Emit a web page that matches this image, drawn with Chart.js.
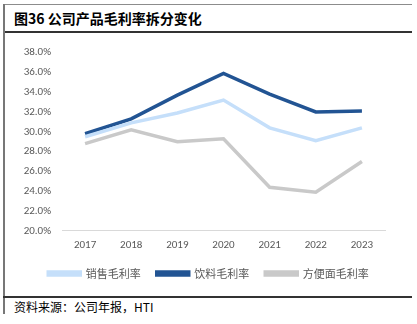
<!DOCTYPE html>
<html>
<head>
<meta charset="utf-8">
<script src="https://cdn.jsdelivr.net/npm/chart.js@4/dist/chart.umd.min.js"></script>
<style>
    body { margin: 0; background: #fff; font-family: "Noto Sans CJK SC", sans-serif; }
    #wrap { position: relative; width: 417px; height: 324px; overflow: hidden; }
    .line { position: absolute; }
    #title { position: absolute; left: 14px; top: 8px; font-size: 14px; font-weight: bold; color: #000; }
    #source { position: absolute; left: 14px; top: 298px; font-size: 12px; color: #000; }
    #chartBox { position: absolute; left: 0; top: 35px; width: 412px; height: 260px; }
</style>
</head>
<body>
<div id="wrap">
    <div class="line" style="left:3px;top:4px;width:409px;height:1px;background:#8c8c8c;"></div>
    <div class="line" style="left:3px;top:31px;width:409px;height:1.5px;background:#333;"></div>
    <div class="line" style="left:3px;top:4px;width:1.5px;height:310px;background:#777;"></div>
    <div class="line" style="left:3px;top:296px;width:409px;height:1.5px;background:#333;"></div>
    <div id="title">图36 公司产品毛利率拆分变化</div>
    <div id="source">资料来源：公司年报，HTI</div>
    <div id="chartBox"><canvas id="myChart"></canvas></div>
</div>
<script>
// Data
const years = ['2017', '2018', '2019', '2020', '2021', '2022', '2023'];
const salesMargin = [29.5, 30.9, 31.9, 33.2, 30.4, 29.1, 30.4];     // 销售毛利率
const drinkMargin = [29.8, 31.3, 33.7, 35.9, 33.8, 32.0, 32.1];     // 饮料毛利率
const noodleMargin = [28.8, 30.2, 29.0, 29.3, 24.4, 23.9, 27.0];    // 方便面毛利率
const yTicks = [20, 22, 24, 26, 28, 30, 32, 34, 36, 38];

const ctx = document.getElementById('myChart').getContext('2d');

const makeSet = (label, data, color) => ({
    label: label,
    data: data,
    borderColor: color,
    backgroundColor: color,
    borderWidth: 3.5,
    pointRadius: 0,
    tension: 0,
    fill: false
});

// the original legend sits a bit right of the canvas centre
const shiftLegend = {
    id: 'shiftLegend',
    afterLayout(chart) {
        chart.legend.left += 16;
        chart.legend.right += 16;
    }
};

new Chart(ctx, {
    type: 'line',
    data: {
        labels: years,
        datasets: [
            makeSet('销售毛利率', salesMargin, '#c5dffa'),
            makeSet('饮料毛利率', drinkMargin, '#225493'),
            makeSet('方便面毛利率', noodleMargin, '#c9c9c9')
        ]
    },
    plugins: [shiftLegend],
    options: {
        responsive: true,
        maintainAspectRatio: false,
        animation: false,
        layout: { padding: { top: 9, right: 27, bottom: 6, left: 0 } },
        plugins: {
            legend: {
                display: true,
                position: 'bottom',
                labels: {
                    boxWidth: 32,
                    boxHeight: 3,
                    padding: 16,
                    color: '#595959',
                    font: { size: 11, family: '"Noto Sans CJK SC"' }
                }
            },
            tooltip: { enabled: false }
        },
        scales: {
            x: {
                offset: true,
                grid: { display: false, drawTicks: false },
                border: { display: true, color: '#d9d9d9', width: 1 },
                afterFit: scale => { scale.height = scale.height - 8; },
                ticks: { color: '#595959', padding: 8, font: { size: 11, family: 'Calibri, Carlito, "Liberation Sans"' } }
            },
            y: {
                min: 20,
                max: 38,
                grid: { display: false, drawTicks: false },
                border: { display: false },
                afterFit: scale => { scale.width = 62; },
                afterBuildTicks: scale => { scale.ticks = yTicks.map(v => ({ value: v })); },
                ticks: {
                    autoSkip: false,
                    padding: 11,
                    color: '#595959',
                    font: { size: 11, family: 'Calibri, Carlito, "Liberation Sans"' },
                    callback: v => v.toFixed(1) + '%'
                }
            }
        }
    }
});
</script>
</body>
</html>
